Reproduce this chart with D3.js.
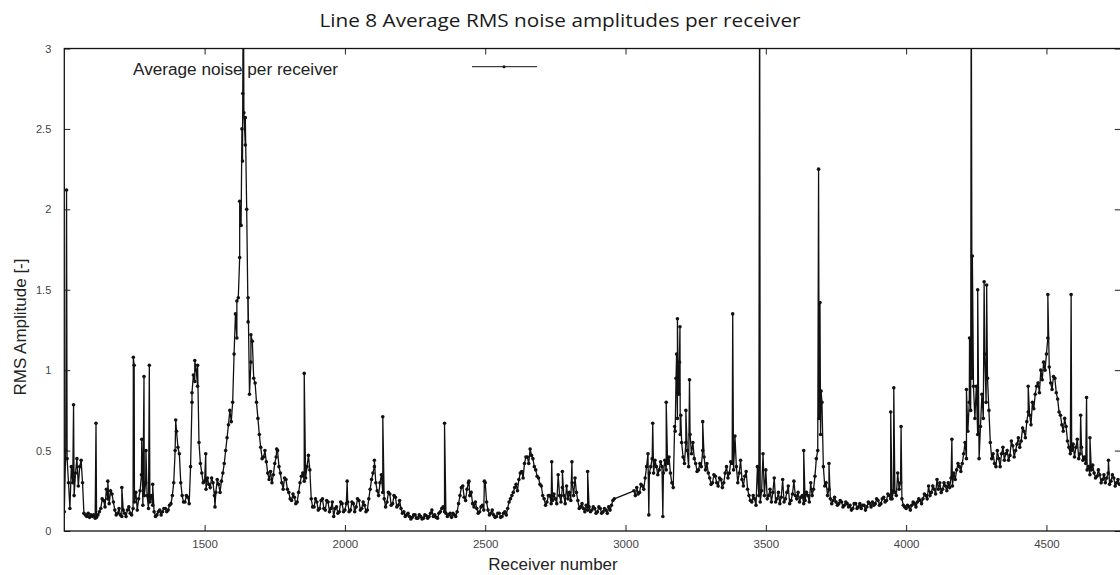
<!DOCTYPE html>
<html><head><meta charset="utf-8">
<script src="https://cdn.jsdelivr.net/npm/d3@7/dist/d3.min.js"></script>
<style>body{margin:0;background:#fff} svg{display:block}</style>
</head><body><svg id="c" width="1120" height="575"></svg>
<script>
// ---- data ----
const receiverStart = 1000;   // first receiver of the regular series
const receiverStep = 10;      // receiver spacing of the regular series
const noiseValues = [
  0.12,0.45,0.14,0.30,0.36,0.28,0.44,0.11,0.09,0.085,
  0.09,0.08,0.10,0.14,0.19,0.26,0.17,0.23,0.13,0.11,
  0.10,0.13,0.09,0.15,0.10,0.18,0.13,0.25,0.16,0.30,
  0.14,0.22,0.12,0.10,0.13,0.12,0.14,0.13,0.17,0.30,
  0.62,0.48,0.22,0.18,0.21,0.40,0.97,1.00,0.55,0.36,
  0.31,0.33,0.27,0.30,0.24,0.29,0.31,0.42,0.58,0.75,
  0.80,1.35,1.45,1.90,2.60,2.00,0.85,1.18,0.92,0.70,
  0.52,0.46,0.43,0.32,0.30,0.42,0.50,0.36,0.26,0.32,
  0.24,0.19,0.21,0.18,0.30,0.36,0.33,0.47,0.20,0.15,
  0.18,0.14,0.20,0.13,0.18,0.14,0.09,0.15,0.12,0.17,
  0.13,0.18,0.13,0.17,0.15,0.19,0.14,0.16,0.13,0.26,
  0.36,0.30,0.22,0.35,0.20,0.18,0.23,0.17,0.21,0.16,
  0.14,0.12,0.10,0.09,0.085,0.10,0.08,0.09,0.08,0.095,
  0.09,0.13,0.10,0.08,0.12,0.15,0.11,0.10,0.085,0.10,
  0.12,0.22,0.28,0.19,0.30,0.24,0.15,0.14,0.12,0.16,
  0.30,0.13,0.11,0.10,0.09,0.11,0.09,0.12,0.14,0.20,
  0.24,0.29,0.32,0.37,0.42,0.46,0.51,0.45,0.38,0.33,
  0.28,0.20,0.18,0.22,0.19,0.20,0.35,0.18,0.22,0.28,
  0.24,0.30,0.33,0.19,0.15,0.14,0.16,0.15,0.13,0.14,
  0.12,0.14,0.12,0.13,0.15,0.16,0.20,null,null,null,
  null,null,null,0.25,0.27,0.24,0.28,0.33,0.48,0.40,
  0.36,0.40,0.38,0.40,0.44,0.42,0.36,0.27,0.95,0.85,
  0.55,0.42,0.50,0.60,0.55,0.42,0.38,0.40,0.46,0.42,
  0.33,0.30,0.34,0.28,0.32,0.30,0.40,0.36,0.42,0.59,
  0.30,0.44,0.28,0.37,0.22,0.18,0.20,0.40,0.18,0.48,
  0.38,0.22,0.18,0.33,0.20,0.17,0.32,0.20,0.28,0.19,
  0.31,0.20,0.18,0.22,0.19,0.22,0.30,0.26,0.45,0.70,
  0.80,0.28,0.22,0.20,0.19,0.18,0.17,0.18,0.16,0.17,
  0.16,0.14,0.17,0.15,0.14,0.16,0.15,0.17,0.18,0.17,
  0.19,0.17,0.21,0.19,0.22,0.20,0.24,0.36,0.30,0.16,
  0.14,0.15,0.16,0.17,0.18,0.19,0.20,0.22,0.28,0.24,
  0.26,0.32,0.30,0.26,0.28,0.30,0.33,0.36,0.38,0.40,
  0.42,0.55,0.62,0.75,0.90,0.90,0.45,0.85,1.10,0.95,
  0.55,0.48,0.40,0.45,0.48,0.44,0.50,0.47,0.53,0.50,
  0.58,0.56,0.62,0.68,0.72,0.80,0.85,0.92,1.00,1.05,
  1.10,1.02,0.88,0.95,0.82,0.72,0.62,0.65,0.52,0.50,
  0.46,0.57,0.48,0.44,0.42,0.40,0.38,0.36,0.34,0.35,
  0.32,0.30,0.36,0.31,0.33,0.30,0.29
];
// receivers in between (1005, 1015, ...)
const midReceiverStart = 1005;
const noiseValuesMid = [
  0.50,0.30,0.40,0.22,0.45,0.40,0.30,0.10,0.11,0.10,
  0.10,0.085,0.12,0.20,0.15,0.20,0.25,0.18,0.10,0.14,
  0.09,0.11,0.13,0.11,0.14,0.24,0.20,0.35,0.22,0.22,
  0.18,0.16,0.09,0.12,0.10,0.14,0.12,0.16,0.22,0.50,
  0.52,0.30,0.18,0.22,0.17,0.80,0.93,0.90,0.42,0.30,
  0.26,0.29,0.33,0.22,0.32,0.24,0.36,0.50,0.66,0.68,
  1.10,1.20,1.70,2.30,2.40,1.30,1.05,0.95,0.80,0.60,
  0.45,0.50,0.36,0.37,0.35,0.46,0.40,0.30,0.33,0.26,
  0.20,0.23,0.17,0.24,0.34,0.31,0.40,0.38,0.15,0.20,
  0.13,0.19,0.14,0.19,0.12,0.18,0.14,0.11,0.18,0.12,
  0.17,0.12,0.18,0.12,0.20,0.13,0.18,0.12,0.20,0.32,
  0.40,0.25,0.30,0.24,0.15,0.24,0.16,0.22,0.15,0.19,
  0.11,0.09,0.11,0.075,0.10,0.08,0.10,0.075,0.10,0.08,
  0.11,0.09,0.085,0.11,0.14,0.12,0.09,0.11,0.11,0.09,
  0.17,0.27,0.21,0.26,0.22,0.17,0.18,0.11,0.15,0.13,
  0.18,0.10,0.13,0.085,0.11,0.085,0.11,0.10,0.18,0.22,
  0.27,0.25,0.36,0.33,0.46,0.42,0.47,0.40,0.34,0.29,
  0.22,0.16,0.22,0.17,0.23,0.17,0.22,0.27,0.17,0.20,
  0.19,0.22,0.24,0.14,0.17,0.12,0.13,0.12,0.15,0.11,
  0.15,0.11,0.14,0.11,0.13,0.19,null,null,null,null,
  null,null,null,0.22,0.23,0.29,0.26,0.40,0.36,0.45,
  0.44,0.35,0.43,0.36,0.38,0.46,0.30,0.65,0.70,0.60,
  0.46,0.55,0.40,0.48,0.45,0.37,0.42,0.50,0.38,0.36,
  0.29,0.35,0.30,0.33,0.27,0.36,0.33,0.43,0.38,0.40,
  0.36,0.32,0.34,0.26,0.19,0.22,0.16,0.22,0.25,0.22,
  0.20,0.26,0.24,0.18,0.24,0.21,0.18,0.24,0.17,0.23,
  0.22,0.24,0.21,0.17,0.24,0.18,0.22,0.34,0.50,0.60,
  0.40,0.30,0.26,0.17,0.21,0.16,0.19,0.15,0.18,0.15,
  0.13,0.17,0.14,0.17,0.16,0.13,0.18,0.15,0.16,0.20,
  0.16,0.20,0.18,0.23,0.20,0.25,0.22,0.26,0.20,0.15,
  0.16,0.13,0.18,0.15,0.20,0.17,0.23,0.20,0.22,0.28,
  0.23,0.26,0.24,0.30,0.25,0.27,0.28,0.32,0.42,0.37,
  0.48,0.45,0.80,0.95,0.70,0.60,0.65,0.70,0.80,0.75,
  0.45,0.42,0.50,0.40,0.52,0.48,0.44,0.56,0.46,0.54,
  0.52,0.64,0.58,0.74,0.66,0.76,0.90,0.86,0.94,1.00,
  1.20,0.92,0.96,0.86,0.74,0.66,0.70,0.56,0.48,0.54,
  0.52,0.45,0.52,0.46,0.38,0.35,0.41,0.33,0.38,0.30,
  0.35,0.33,0.29,0.35,0.28,0.32
];
const spikeReceivers = [1008,1033,1113,1155,1205,1246,1249,1276,1284,1291,1303,1315,1397,1455,1465,1475,1504,1537,
  1615,1625,1633,1636,1638,1645,1655,1665,1757,1855,2008,2105,2135,2355,2442,2497,2737,2775,2809,2865,
  3083,3097,3133,3145,3177,3182,3185,3188,3192,3194,3197,3215,3228,3275,3382,3478,3635,3688,3693,3697,3725,
  3945,3956,3982,4163,4215,4226,4232,4236,4255,4278,4287,4435,4505,4588,4622,4643,4655,4721];
const spikeValues = [2.12,0.785,0.67,0.31,0.27,1.08,1.03,0.57,0.96,0.50,1.03,0.29,0.69,0.86,1.06,1.03,0.48,0.15,
  1.43,2.05,2.50,2.72,3.60,2.57,1.45,1.22,0.51,0.98,0.31,0.44,0.71,0.67,0.31,0.31,0.43,0.37,0.43,0.37,
  0.10,0.67,0.09,0.80,0.62,1.10,1.32,0.90,1.05,1.27,0.72,0.75,0.94,0.68,1.35,3.60,0.50,2.25,1.42,0.87,0.42,
  0.74,0.89,0.65,0.57,0.88,1.20,3.60,1.71,1.50,1.55,1.53,0.90,1.47,1.47,0.72,0.83,0.58,0.44];
const xTicks = [1500,2000,2500,3000,3500,4000,4500];
const yTicks = [0,0.5,1,1.5,2,2.5,3];
const titleText = "Line 8 Average RMS noise amplitudes per receiver";
const xLabel = "Receiver number";
const yLabel = "RMS Amplitude [-]";
const legendLabel = "Average noise per receiver";

// ---- build points ----
const pts = [];
noiseValues.forEach((v,i)=>{ if(v!==null) pts.push({r:receiverStart+i*receiverStep, v}); });
noiseValuesMid.forEach((v,i)=>{ if(v!==null) pts.push({r:midReceiverStart+i*receiverStep, v}); });
spikeReceivers.forEach((r,i)=>pts.push({r, v:spikeValues[i]}));
pts.sort((a,b)=>a.r-b.r);

const svg = d3.select("#c");
const L=64.3, R=1120.8, T=48.5, B=531;
const x = d3.scaleLinear().domain([1000,4765]).range([L,R]);
const y = d3.scaleLinear().domain([0,3]).range([B,T]);

svg.append("defs").append("clipPath").attr("id","clip")
  .append("rect").attr("x",L).attr("y",T).attr("width",R-L).attr("height",B-T);

// title
svg.append("text").attr("x",560).attr("y",27).attr("text-anchor","middle")
  .attr("font-family","Open Sans, sans-serif").attr("font-size",18).attr("fill","#1a1a1a")
  .attr("textLength",481).attr("lengthAdjust","spacingAndGlyphs").text(titleText);

// data
const g = svg.append("g").attr("clip-path","url(#clip)");
g.append("path").datum(pts)
  .attr("d", d3.line().x(d=>x(d.r)).y(d=>y(d.v)))
  .attr("fill","none").attr("stroke","#111").attr("stroke-width",1.3);
g.selectAll("circle").data(pts).join("circle")
  .attr("cx",d=>x(d.r)).attr("cy",d=>y(d.v)).attr("r",1.8).attr("fill","#111");

// axes
const tickFont = g0 => g0.selectAll("text").attr("font-family","Liberation Sans, Arial, sans-serif").attr("fill","#444");
const ax = svg.append("g").attr("transform",`translate(0,${B})`)
  .call(d3.axisBottom(x).tickValues(xTicks).tickSize(-6).tickPadding(9).tickFormat(d3.format("d")));
ax.select(".domain").remove();
ax.selectAll("text").attr("font-size",11.5);
tickFont(ax);
const axTop = svg.append("g").attr("transform",`translate(0,${T})`)
  .call(d3.axisTop(x).tickValues(xTicks).tickSize(-6).tickFormat(""));
axTop.select(".domain").remove();
const ay = svg.append("g").attr("transform",`translate(${L},0)`)
  .call(d3.axisLeft(y).tickValues(yTicks).tickSize(-6).tickPadding(13).tickFormat(d=>String(d)));
ay.select(".domain").remove();
ay.selectAll("text").attr("font-size",11);
tickFont(ay);
const ayR = svg.append("g").attr("transform",`translate(${R},0)`)
  .call(d3.axisRight(y).tickValues(yTicks).tickSize(-6).tickFormat(""));
ayR.select(".domain").remove();
svg.selectAll(".tick line").attr("stroke","#222");

// frame
svg.append("rect").attr("x",L).attr("y",T).attr("width",R-L).attr("height",B-T)
  .attr("fill","none").attr("stroke","#111").attr("stroke-width",1.3);

// axis labels
svg.append("text").attr("x",553).attr("y",570).attr("text-anchor","middle")
  .attr("font-family","Liberation Sans, Arial, sans-serif").attr("font-size",17).attr("fill","#222").text(xLabel);
svg.append("text").attr("transform","translate(26,327) rotate(-90)").attr("text-anchor","middle")
  .attr("font-family","Liberation Sans, Arial, sans-serif").attr("font-size",17).attr("fill","#222").text(yLabel);

// legend
svg.append("text").attr("x",133).attr("y",75)
  .attr("font-family","Liberation Sans, Arial, sans-serif").attr("font-size",16).attr("fill","#222")
  .attr("textLength",205).attr("lengthAdjust","spacingAndGlyphs").text(legendLabel);
svg.append("line").attr("x1",472).attr("x2",537).attr("y1",66.7).attr("y2",66.7).attr("stroke","#111").attr("stroke-width",1);
svg.append("circle").attr("cx",504).attr("cy",66.7).attr("r",1.5).attr("fill","#111");
</script></body></html>
